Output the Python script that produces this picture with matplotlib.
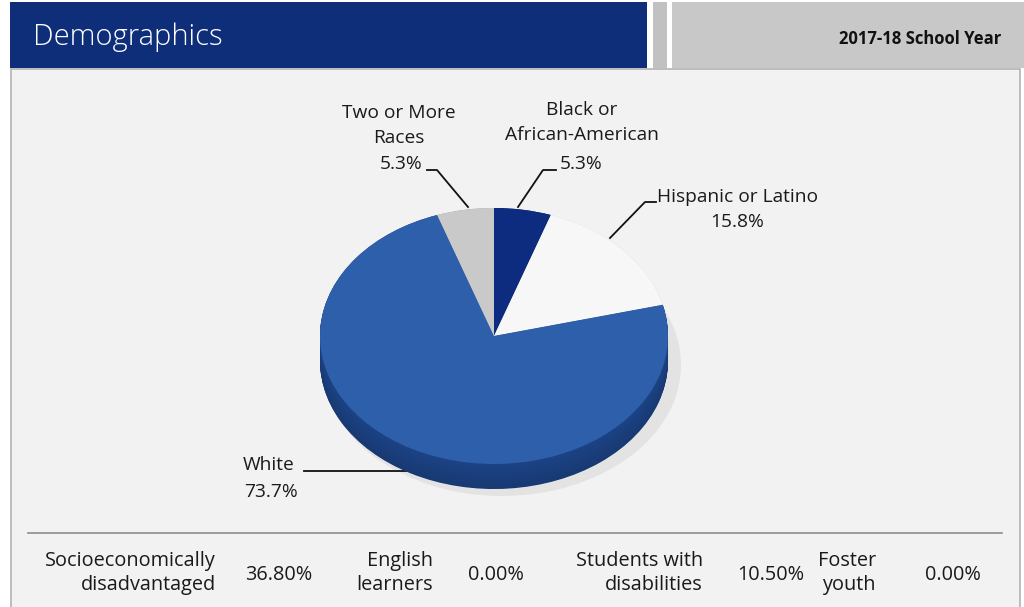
import matplotlib
matplotlib.use("Agg")
import matplotlib.pyplot as plt
from matplotlib.patches import Rectangle, Ellipse
import numpy as np

# ---- data ----
categories = ["Black or\nAfrican-American", "Hispanic or Latino", "White", "Two or More\nRaces"]
shares = [5.3, 15.8, 73.7, 5.3]
top_colors = ["#0D2C80", "#F7F7F7", "#2E5FAA", "#C9C9C9"]
side_colors = ["#0A2260", "#D0D0D0", "#1C4386", "#9E9E9E"]

stat_labels = ["Socioeconomically\ndisadvantaged", "English\nlearners", "Students with\ndisabilities", "Foster\nyouth"]
stat_values = ["36.80%", "0.00%", "10.50%", "0.00%"]

title = "Demographics"
year_label = "2017-18 School Year"

W, H = 1024, 607
fig = plt.figure(figsize=(W / 100, H / 100), dpi=100)
fig.patch.set_facecolor("white")

FONT = ["Open Sans", "DejaVu Sans"]

# overlay axes in pixel coordinates
ov = fig.add_axes([0, 0, 1, 1])
ov.set_xlim(0, W)
ov.set_ylim(H, 0)
ov.axis("off")

# header
ov.add_patch(Rectangle((10, 2), 637, 66, facecolor="#0F2E7A", edgecolor="none"))
ov.add_patch(Rectangle((653, 2), 14, 66, facecolor="#C1C1C1", edgecolor="none"))
ov.add_patch(Rectangle((672, 2), 352, 66, facecolor="#C8C8C8", edgecolor="none"))
ov.text(33, 37, title, color="white", fontsize=21, family=FONT, fontweight="light",
        va="center", ha="left")
ov.text(1001, 39, year_label, color="#111111", fontsize=12, family=FONT, fontweight="bold",
        va="center", ha="right")

# panel
ov.add_patch(Rectangle((10.5, 68.5), 1009, 545, facecolor="#F2F2F2", edgecolor="#B3B3B3",
                       linewidth=1.2))

# divider line above stats
ov.plot([28, 1002], [533, 533], color="#8C8C8C", linewidth=1.2)

# ---- pie (fake 3D) ----
cx, cy, rx, ry, d = 494, 336, 174, 128, 25
# shadow
ov.add_patch(Ellipse((cx + 8, cy + d + 4), 2 * rx + 10, 2 * ry + 6, facecolor="#DADADA",
                     edgecolor="none", alpha=0.6))
pax = fig.add_axes([(cx - rx) / W, 1 - (cy + ry + d) / H, 2 * rx / W, (2 * ry + d) / H])
pax.axis("off")
ylow = -1 - 2 * d / (2 * ry)
n_layers = 40
for i, off in enumerate(np.linspace(-2 * d / (2 * ry), 0, n_layers)):
    t = i / (n_layers - 1)
    cols = []
    for c in side_colors:
        rgb = np.array(matplotlib.colors.to_rgb(c))
        cols.append(tuple(rgb * (0.85 + 0.15 * t)))
    pax.pie(shares, colors=cols, startangle=90, counterclock=False, center=(0, off),
            radius=1, wedgeprops=dict(linewidth=0))
pax.pie(shares, colors=top_colors, startangle=90, counterclock=False, center=(0, 0),
        radius=1, wedgeprops=dict(linewidth=0))
pax.set_xlim(-1, 1)
pax.set_ylim(ylow, 1)
pax.set_aspect("auto")

# ---- pie labels ----
lab_kw = dict(fontsize=13.8, family=FONT, color="#1A1A1A", va="center")
lc = "#111111"


def lines(x, ys, text, ha="center"):
    for y, s in zip(ys, text.split("\n")):
        ov.text(x, y, s, ha=ha, **lab_kw)


# Two or More Races
lines(399, [113, 138], categories[3])
ov.text(401, 164, f"{shares[3]}%", ha="center", **lab_kw)
ov.plot([427, 437, 468], [170, 170, 207], color=lc, lw=1.3)
# Black
lines(582, [110, 135], categories[0])
ov.text(581, 164, f"{shares[0]}%", ha="center", **lab_kw)
ov.plot([518, 543, 556], [207, 170, 170], color=lc, lw=1.3)
# Hispanic
ov.text(657, 197, categories[1], ha="left", **lab_kw)
ov.text(737, 222, f"{shares[1]}%", ha="center", **lab_kw)
ov.plot([610, 645, 656], [238, 202, 202], color=lc, lw=1.3)
# White
ov.text(243, 465, categories[2], ha="left", **lab_kw)
ov.text(244, 492, f"{shares[2]}%", ha="left", **lab_kw)
ov.plot([304, 406], [471, 471], color=lc, lw=1.3)

# ---- stats row ----
st_kw = dict(fontsize=14.3, family=FONT, color="#1A1A1A", va="center")
label_right = [216, 433, 703, 876]
value_left = [245, 468, 737, 925]
for lab, val, xr, xv in zip(stat_labels, stat_values, label_right, value_left):
    for y, s in zip([561, 585], lab.split("\n")):
        ov.text(xr, y, s, ha="right", **st_kw)
    ov.text(xv, 575, val, ha="left", **st_kw)

fig.savefig("out.png", dpi=100, facecolor=fig.get_facecolor())
